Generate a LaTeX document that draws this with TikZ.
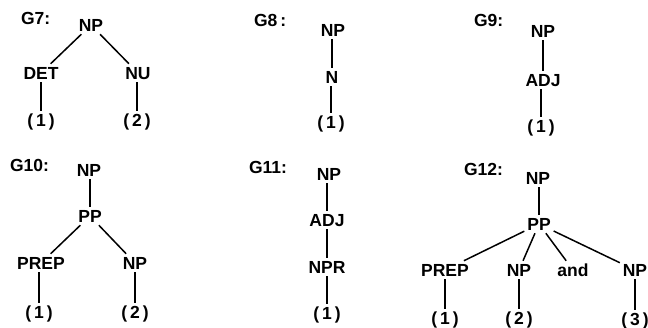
\documentclass[tikz,border=0pt]{standalone}
\usepackage{fontspec}
\setmainfont{Liberation Sans}
\begin{document}
\begin{tikzpicture}[x=1pt,y=-1pt,
  lbl/.style={inner sep=0pt,outer sep=3pt,text height=12.5pt,text depth=0pt,font=\fontsize{17.5}{17.5}\selectfont\bfseries},
  gname/.style={lbl,anchor=west},
  edge/.style={line width=1.5pt}]
\useasboundingbox (0,0) rectangle (648,328);
\newcommand{\pn}[1]{(\hspace{3pt}#1\hspace{3pt})}
\newcommand{\vedge}[2]{\draw[edge] (#1.south -| #2) -- (#2.north);}
% G7
\node[gname] (g7) at (18,18) {G7:};
\node[lbl] (g7np) at (91,25) {NP};
\node[lbl] (g7det) at (41,73) {DET};
\node[lbl] (g7nu) at (138,73) {NU};
\node[lbl] (g7a) at (41,120) {\pn{1}};
\node[lbl] (g7b) at (137,120) {\pn{2}};
\draw[edge] (g7np) -- (g7det);
\draw[edge] (g7np) -- (g7nu);
\vedge{g7det}{g7a}
\vedge{g7nu}{g7b}
% G8
\node[gname] (g8) at (251,20) {G8\,:};
\node[lbl] (g8np) at (333,30) {NP};
\node[lbl] (g8n) at (332,77) {N};
\node[lbl] (g8a) at (331,122) {\pn{1}};
\vedge{g8np}{g8n}
\vedge{g8n}{g8a}
% G9
\node[gname] (g9) at (471,20) {G9:};
\node[lbl] (g9np) at (543,31) {NP};
\node[lbl] (g9adj) at (543,80) {ADJ};
\node[lbl] (g9a) at (541,126) {\pn{1}};
\vedge{g9np}{g9adj}
\vedge{g9adj}{g9a}
% G10
\node[gname] (g10) at (7,165) {G10:};
\node[lbl] (g10np) at (89,170) {NP};
\node[lbl] (g10pp) at (90,216) {PP};
\node[lbl] (g10prep) at (41,263) {PREP};
\node[lbl] (g10np2) at (135,263) {NP};
\node[lbl] (g10a) at (39,312) {\pn{1}};
\node[lbl] (g10b) at (135,312) {\pn{2}};
\vedge{g10np}{g10pp}
\draw[edge] (g10pp) -- (g10prep);
\draw[edge] (g10pp) -- (g10np2);
\vedge{g10prep}{g10a}
\vedge{g10np2}{g10b}
% G11
\node[gname] (g11) at (246,167) {G11:};
\node[lbl] (g11np) at (329,174) {NP};
\node[lbl] (g11adj) at (327,220) {ADJ};
\node[lbl] (g11npr) at (327,267) {NPR};
\node[lbl] (g11a) at (327,313) {\pn{1}};
\vedge{g11np}{g11adj}
\vedge{g11adj}{g11npr}
\vedge{g11npr}{g11a}
% G12
\node[gname] (g12) at (461,169) {G12:};
\node[lbl] (g12np) at (538,178) {NP};
\node[lbl] (g12pp) at (539,224) {PP};
\node[lbl] (g12prep) at (445,270) {PREP};
\node[lbl] (g12np2) at (519,270) {NP};
\node[lbl] (g12and) at (573,270) {and};
\node[lbl] (g12np3) at (635,270) {NP};
\node[lbl] (g12a) at (445,318) {\pn{1}};
\node[lbl] (g12b) at (519,318) {\pn{2}};
\node[lbl] (g12c) at (635,319) {\pn{3}};
\vedge{g12np}{g12pp}
\draw[edge] (g12pp) -- (g12prep);
\draw[edge] (g12pp) -- (g12np2);
\draw[edge] (g12pp) -- (g12and);
\draw[edge] (g12pp) -- (g12np3);
\vedge{g12prep}{g12a}
\vedge{g12np2}{g12b}
\vedge{g12np3}{g12c}
\end{tikzpicture}
\end{document}
